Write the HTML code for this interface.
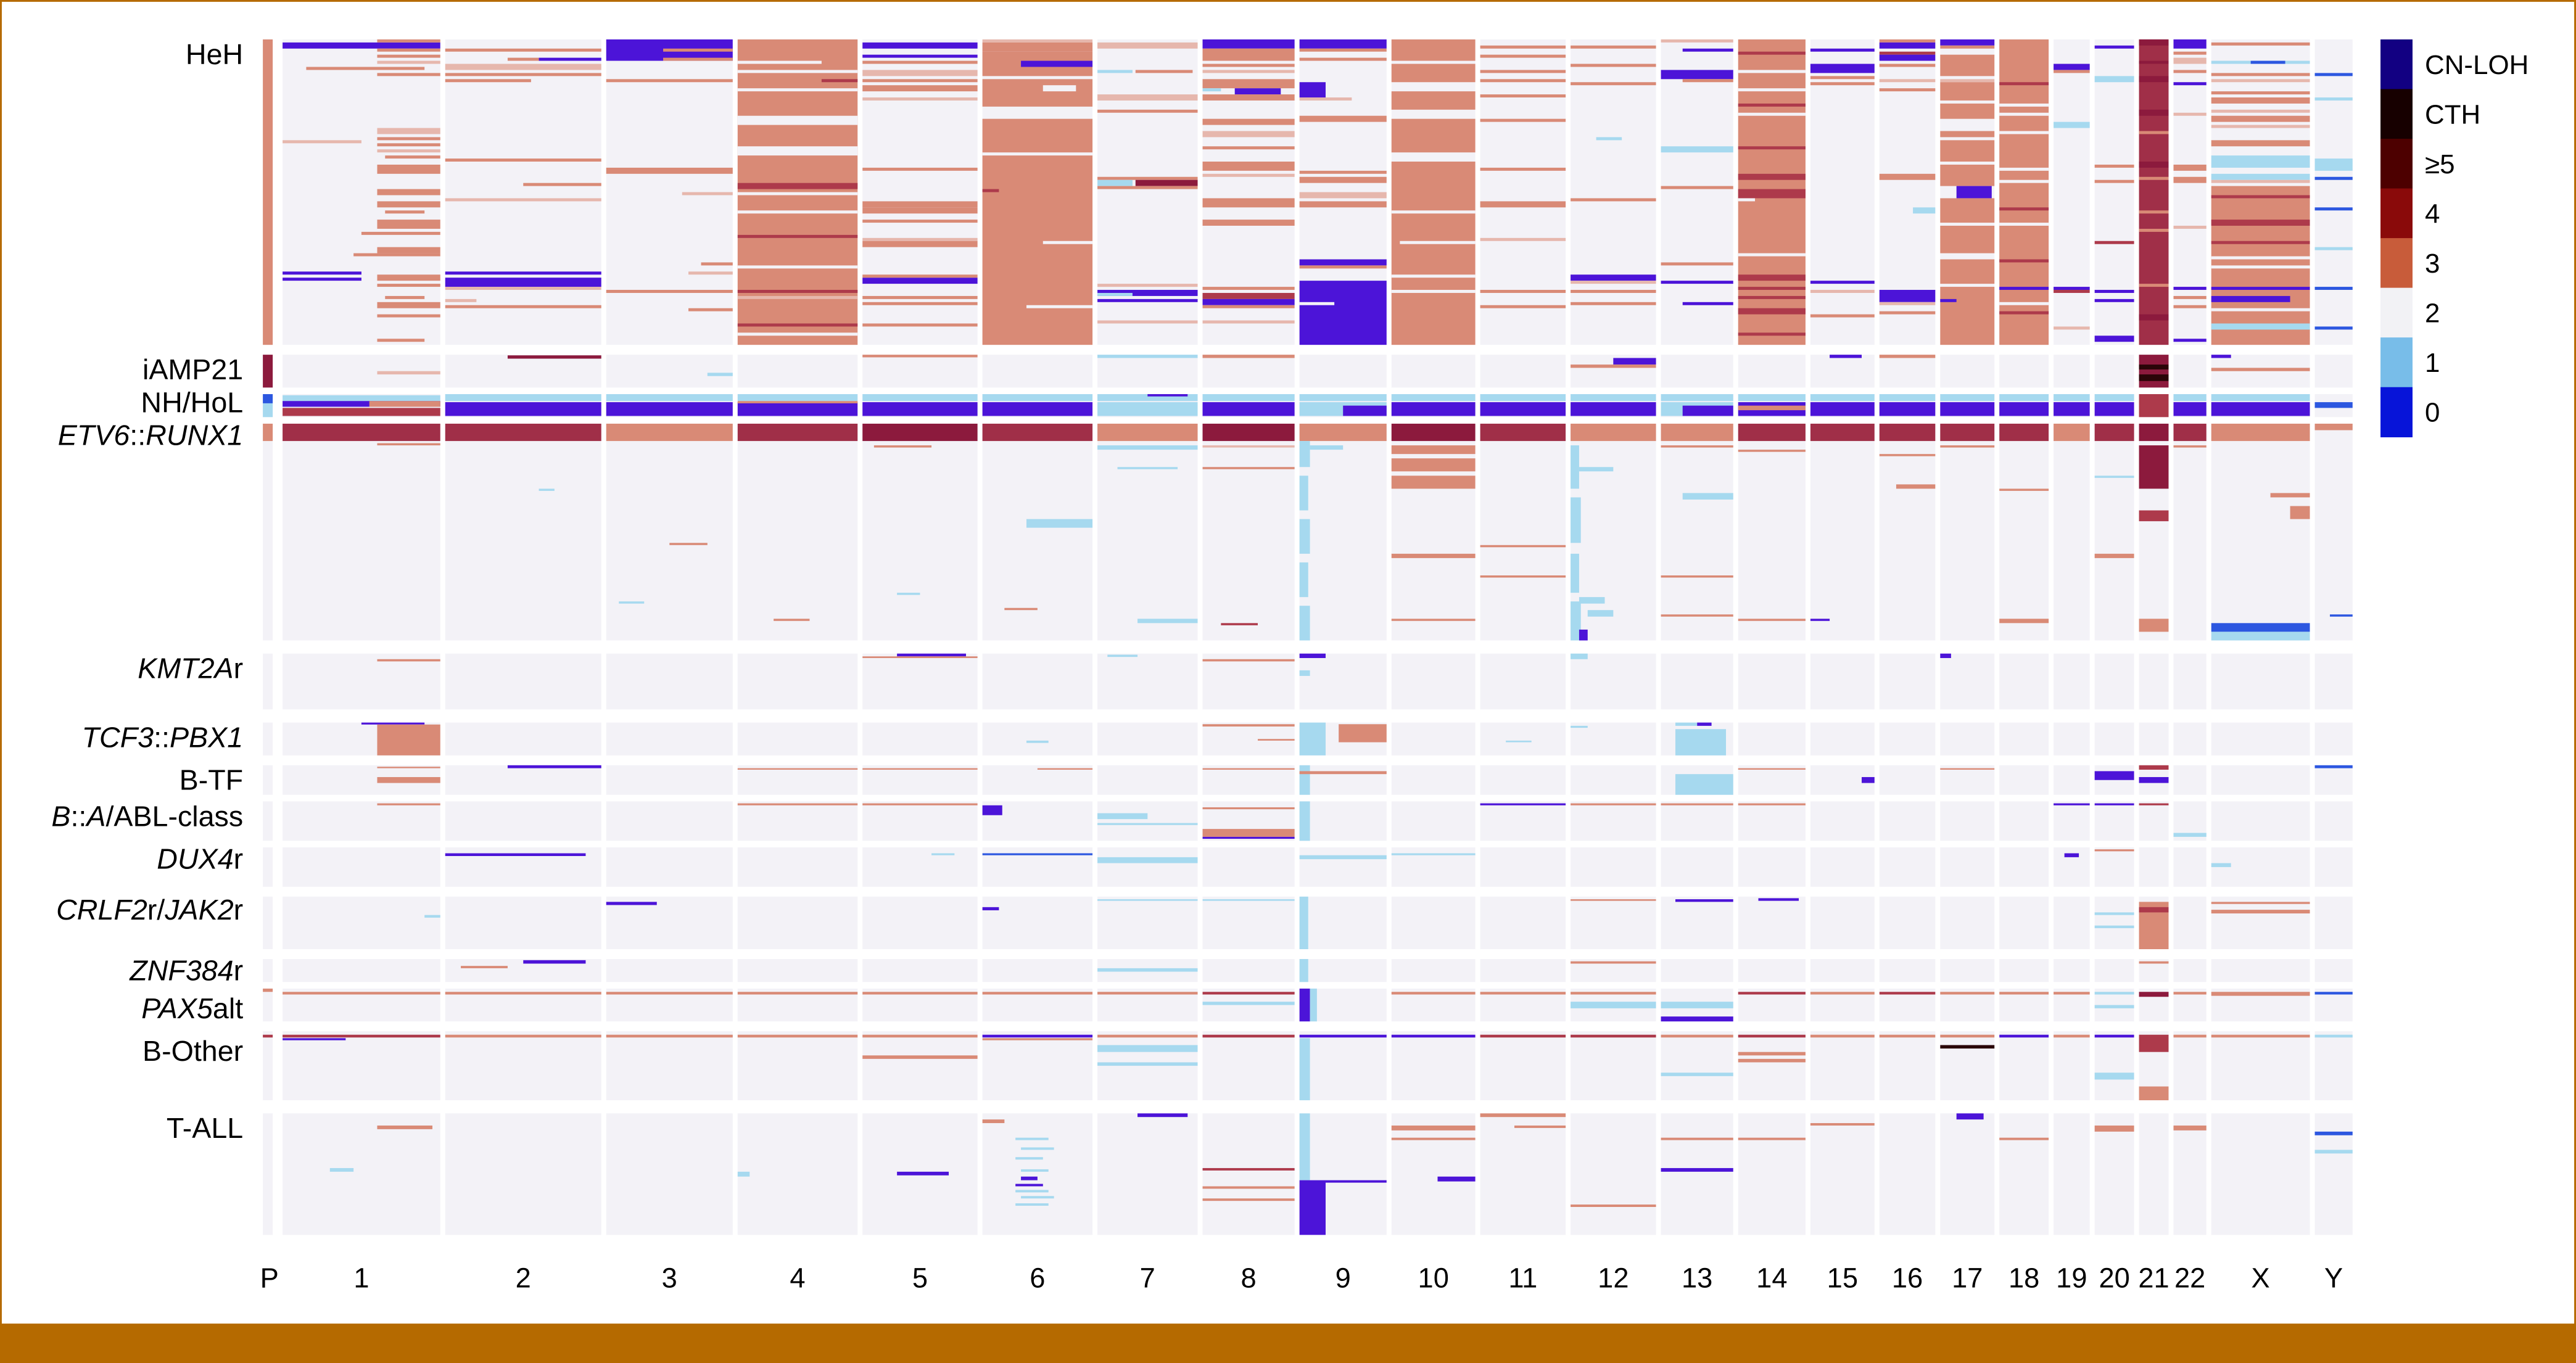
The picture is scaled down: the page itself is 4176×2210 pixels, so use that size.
<!DOCTYPE html>
<html><head><meta charset="utf-8">
<style>
html,body{margin:0;padding:0;background:#fff}
#wrap{position:relative;width:4176px;height:2210px;overflow:hidden;background:#fff}
svg{position:absolute;left:0;top:0}
text{font-family:"Liberation Sans",sans-serif;fill:#000}
</style></head>
<body>
<div id="wrap">
<svg id="chart" width="4176" height="2210" viewBox="0 0 1568 830" preserveAspectRatio="none">
  <rect x="0" y="0" width="1568" height="830" fill="#fff"/>
  <rect x="0.5" y="0.5" width="1567" height="810" fill="none" stroke="#b56a00" stroke-width="1.2"/>
  <rect x="0" y="806" width="1568" height="24" fill="#b56a00"/>
  <g id="cells"></g>
  <g id="rowlabels"></g>
  <g id="xlabels"></g>
  <g id="legend"></g>
</svg>
</div>
<script>
// ---- chart data ----
const chromNames = ["P","1","2","3","4","5","6","7","8","9","10","11","12","13","14","15","16","17","18","19","20","21","22","X","Y"];
const chromStart = [160,172,271,369,449,525,598,668,732,791,847,901,956,1011,1058,1102,1144,1181,1217,1250,1275,1302,1323,1346,1409];
const chromEnd   = [166,268,366,446,522,595,665,729,788,844,898,953,1008,1055,1099,1141,1178,1214,1247,1272,1299,1320,1343,1406,1432];
const groupNames = ["HeH","iAMP21","NH/HoL","ETV6::RUNX1","KMT2Ar","TCF3::PBX1","B-TF","B::A/ABL-class","DUX4r","CRLF2r/JAK2r","ZNF384r","PAX5alt","B-Other","T-ALL"];
const groupTop    = [24,216,240,258,398,440,466,488,516,546,584,602,628,678];
const groupBottom = [210,236,254,390,432,460,484,512,540,578,598,622,670,752];
const legendLabels = ["CN-LOH","CTH","\u22655","4","3","2","1","0"];
const legendStates = ["L","C","5","4","3","2","1","0"];
const stateColors = {"L":"#4c14d8","C":"#2a0508","5":"#8c1a3d","4":"#ad3a4b","3":"#d98a76","2":"#f3f2f7","1":"#a6d9ef","0":"#2c57e0","l":"#e6b7ad","d":"#a02f48"};
const legendColors = {"L":"#120082","C":"#170000","5":"#4d0000","4":"#8a0a0a","3":"#c85c3a","2":"#f2f2f5","1":"#78bde9","0":"#0714d9"};
// segments per group: [chromIndex, rowFrom%, rowTo%, state, xFrom, xTo]
const heh = [
 [0,0,100,"3"],
 [1,1,3,"L",0,1],[1,0,1,"3",.6,1],[1,3,4,"3",.6,1],[1,5,6,"3",.6,1],[1,7,8,"l",.6,1],[1,9,10,"3",.15,.9],[1,11,12,"3",.6,1],
 [1,29,31,"l",.6,1],[1,32,33,"3",.6,1],[1,33,34,"l",0,.5],[1,34,35,"3",.6,1],[1,36,37,"l",.6,1],[1,38,39,"3",.65,1],[1,41,44,"3",.6,1],
 [1,49,51,"3",.6,1],[1,53,55,"3",.6,1],[1,56,57,"3",.65,.9],[1,59,62,"3",.6,1],[1,63,64,"3",.5,1],[1,68,70,"3",.6,1],[1,70,71,"3",.45,1],
 [1,76,77,"L",0,.5],[1,78,79,"L",0,.5],[1,77,79,"3",.6,1],[1,80,81,"3",.6,1],[1,84,85,"3",.65,.9],[1,86,88,"3",.6,1],[1,90,91,"3",.6,1],[1,98,99,"3",.6,.9],
 [2,3,4,"3",0,1],[2,6,7,"3",.4,.6],[2,6,7,"L",.6,1],[2,8,10,"l",0,1],[2,11,12,"3",0,1],[2,13,14,"3",0,.55],[2,39,40,"3",0,1],[2,47,48,"3",.5,1],
 [2,52,53,"l",0,1],[2,76,77,"L",0,1],[2,78,81,"L",0,1],[2,81,82,"l",0,1],[2,85,86,"l",0,.2],[2,87,88,"3",0,1],
 [3,0,7,"L",0,1],[3,3,4,"3",.45,1],[3,6,7,"3",.45,1],[3,13,14,"3",0,1],[3,42,44,"3",0,1],[3,50,51,"l",.6,1],[3,73,74,"3",.75,1],[3,76,77,"l",.65,1],[3,82,83,"3",0,1],[3,88,89,"3",.65,1],
 [4,0,100,"3"],[4,7,8,"2",0,.7],[4,10,11,"2"],[4,16,17,"2"],[4,25,28,"2"],[4,35,38,"2"],[4,13,14,"4",.7,1],[4,50,51,"2"],[4,56,57,"2"],[4,47,49,"4"],[4,64,65,"4"],[4,74,75,"2"],[4,82,83,"4"],[4,84,85,"l"],[4,93,94,"4"],[4,96,97,"2"],
 [5,1,3,"L"],[5,5,6,"L"],[5,7,8,"3"],[5,10,12,"l"],[5,13,14,"3"],[5,15,17,"3"],[5,19,20,"l"],[5,42,43,"3"],[5,53,55,"3"],[5,55,57,"3"],[5,59,60,"3"],[5,65,66,"l"],[5,66,68,"3"],[5,78,80,"L"],[5,77,78,"3"],[5,84,85,"3"],[5,86,87,"3"],[5,93,94,"3"],
 [6,0,1,"l"],[6,1,4,"3"],[6,4,12,"3"],[6,7,9,"L",.35,1],[6,13,22,"3"],[6,15,17,"2",.55,.85],[6,26,100,"3"],[6,37,38,"2"],[6,49,50,"4",0,.15],[6,66,67,"2",.55,1],[6,87,88,"2",.4,1],
 [7,1,3,"l"],[7,10,11,"1",0,.35],[7,10,11,"3",.38,.95],[7,18,20,"l"],[7,23,24,"3"],[7,45,46,"3"],[7,46,48,"1",0,.35],[7,46,48,"5",.38,1],[7,48,49,"3"],[7,80,81,"l"],[7,82,84,"L"],[7,83,84,"1",0,.35],[7,85,86,"L"],[7,92,93,"l"],
 [8,0,3,"L"],[8,3,7,"3"],[8,8,9,"3"],[8,10,11,"l"],[8,13,16,"3"],[8,16,17,"1",0,.2],[8,16,18,"L",.35,.85],[8,18,20,"3"],[8,26,28,"3"],[8,30,32,"l"],[8,35,36,"3"],
 [8,40,43,"3"],[8,44,45,"l"],[8,52,55,"3"],[8,59,61,"3"],[8,81,82,"3"],[8,83,85,"4"],[8,85,87,"L"],[8,87,88,"3"],[8,92,93,"l"],
 [9,0,3,"L"],[9,3,4,"3"],[9,6,7,"3"],[9,14,19,"L",0,.3],[9,19,20,"l",0,.6],[9,25,27,"3"],[9,43,44,"3"],[9,45,47,"3"],[9,50,52,"l"],[9,53,55,"3"],[9,72,74,"L"],[9,74,75,"3"],[9,79,100,"L"],[9,86,87,"2",0,.4],
 [10,0,7,"3"],[10,8,14,"3"],[10,17,23,"3"],[10,26,37,"3"],[10,40,100,"3"],[10,56,57,"2"],[10,66,67,"2",.1,1],[10,77,78,"2"],[10,82,83,"2"],
 [11,2,3,"3"],[11,5,6,"3"],[11,10,11,"3"],[11,13,14,"3"],[11,18,19,"3"],[11,26,27,"3"],[11,42,43,"3"],[11,53,55,"3"],[11,65,66,"l"],[11,82,83,"3"],[11,87,88,"3"],
 [12,2,3,"3"],[12,8,9,"3"],[12,14,15,"3"],[12,32,33,"1",.3,.6],[12,52,53,"3"],[12,77,79,"L"],[12,79,80,"l"],[12,82,83,"3"],[12,86,87,"3"],
 [13,0,1,"l"],[13,3,4,"L",.3,1],[13,10,13,"L"],[13,13,14,"3",.3,1],[13,35,37,"1"],[13,48,49,"3"],[13,73,74,"3"],[13,79,80,"L"],[13,86,87,"L",.3,1],
 [14,0,100,"3"],[14,4,5,"4"],[14,10,11,"2"],[14,16,17,"2"],[14,21,22,"4"],[14,24,25,"2"],[14,35,36,"4"],[14,44,46,"4"],[14,49,52,"4"],[14,52,53,"2",0,.25],[14,70,71,"2"],[14,77,79,"4"],[14,81,82,"4"],[14,84,85,"4"],[14,88,90,"4"],[14,96,97,"4"],
 [15,3,4,"L"],[15,8,11,"L"],[15,12,13,"3"],[15,14,15,"3"],[15,79,80,"L"],[15,82,83,"l"],[15,90,91,"3"],
 [16,0,1,"3"],[16,1,3,"L"],[16,4,5,"4"],[16,5,7,"L"],[16,8,9,"3"],[16,13,14,"l"],[16,16,17,"3"],[16,44,46,"3"],[16,55,57,"1",.6,1],[16,82,86,"L"],[16,86,87,"l"],[16,89,90,"3"],
 [17,0,2,"L"],[17,2,3,"3"],[17,5,12,"3"],[17,13,14,"l"],[17,14,20,"3"],[17,21,26,"3"],[17,30,32,"3"],[17,33,40,"3"],[17,41,48,"3"],[17,48,52,"L",.3,.95],[17,52,60,"3"],[17,61,70,"3"],[17,72,80,"3"],[17,81,100,"3"],[17,85,86,"L",0,.3],
 [18,0,100,"3"],[18,14,15,"4"],[18,21,22,"2"],[18,24,25,"2"],[18,30,31,"2"],[18,42,43,"2"],[18,46,47,"2"],[18,55,56,"4"],[18,60,61,"2"],[18,72,73,"4"],[18,81,82,"L"],[18,86,87,"2"],[18,89,90,"4"],
 [19,8,10,"L"],[19,10,11,"3"],[19,27,29,"1"],[19,81,82,"L"],[19,82,83,"4"],[19,94,95,"l"],
 [20,2,3,"L"],[20,12,14,"1"],[20,41,42,"3"],[20,46,47,"3"],[20,66,67,"4"],[20,82,83,"L"],[20,85,86,"L"],[20,97,99,"L"],
 [21,0,100,"d"],[21,0,2,"5"],[21,7,8,"5"],[21,12,14,"5"],[21,23,25,"5"],[21,30,31,"3"],[21,40,42,"5"],[21,45,46,"3"],[21,56,57,"3"],[21,62,63,"3"],[21,80,81,"3"],[21,90,92,"5"],
 [22,0,3,"L"],[22,4,5,"3"],[22,6,8,"l"],[22,10,11,"3"],[22,14,15,"L"],[22,24,25,"l"],[22,41,43,"3"],[22,45,47,"3"],[22,61,62,"l"],[22,81,82,"L"],[22,84,85,"3"],[22,87,88,"3"],[22,98,99,"L"],
 [23,1,2,"3"],[23,7,8,"1"],[23,7,8,"0",.4,.75],[23,11,12,"3"],[23,13,14,"l"],[23,17,18,"3"],[23,19,21,"3"],[23,23,24,"l"],[23,25,27,"3"],[23,28,29,"l"],
 [23,33,35,"3"],[23,38,40,"1"],[23,40,42,"1"],[23,44,46,"1"],[23,46,47,"l"],[23,48,100,"3"],[23,51,52,"4"],[23,59,61,"4"],[23,66,67,"4"],[23,71,72,"2"],[23,74,75,"2"],[23,81,82,"L"],[23,84,86,"L",0,.8],[23,88,89,"2"],[23,93,95,"1"],
 [24,11,12,"0"],[24,19,20,"1"],[24,39,43,"1"],[24,45,46,"0"],[24,55,56,"0"],[24,68,69,"1"],[24,81,82,"0"],[24,94,95,"0"]
];
const iamp = [
 [0,0,100,"5"],[1,50,60,"l",.6,1],[2,2,12,"5",.4,1],[3,55,65,"1",.8,1],[5,0,8,"3"],[7,0,10,"1"],[8,0,10,"3"],[12,10,30,"L",.5,1],[12,30,40,"3"],[15,0,10,"L",.3,.8],[16,0,10,"3"],
 [21,0,100,"5"],[21,30,45,"C"],[21,60,80,"C"],[23,40,50,"3"],[23,0,10,"L",0,.2]
];
const nh = [
 [0,0,40,"0"],[0,40,100,"1"],
 [1,5,30,"1"],[1,30,55,"L"],[1,30,55,"3",.55,1],[1,60,95,"4"],
 [2,0,30,"1"],[2,35,95,"L"],[3,0,30,"1"],[3,35,95,"L"],[4,0,30,"1"],[4,35,95,"L"],[4,30,40,"3"],[5,0,30,"1"],[5,35,95,"L"],[6,0,30,"1"],[6,35,95,"L"],
 [7,0,30,"1"],[7,35,95,"1"],[7,0,10,"L",.5,.9],[8,0,30,"1"],[8,35,95,"L"],[9,0,30,"1"],[9,35,95,"1"],[9,50,95,"L",.5,1],[10,0,30,"1"],[10,35,95,"L"],[11,0,30,"1"],[11,35,95,"L"],
 [12,0,30,"1"],[12,35,95,"L"],[13,0,30,"1"],[13,35,95,"1"],[13,50,95,"L",.3,1],[14,0,30,"1"],[14,35,95,"L"],[14,50,70,"3"],[15,0,30,"1"],[15,35,95,"L"],[16,0,30,"1"],[16,35,95,"L"],
 [17,0,30,"1"],[17,35,95,"L"],[18,0,30,"1"],[18,35,95,"L"],[19,0,30,"1"],[19,35,95,"L"],[20,0,30,"1"],[20,35,95,"L"],[21,0,100,"4"],[22,0,30,"1"],[22,35,95,"L"],
 [23,0,30,"1"],[23,35,95,"L"],[24,35,60,"0"]
];
const etv = [
 [0,0,8,"3"],
 [1,0,8,"d"],[2,0,8,"d"],[3,0,8,"3"],[4,0,8,"d"],[5,0,8,"5"],[6,0,8,"d"],[7,0,8,"3"],[8,0,8,"5"],[9,0,8,"3"],[10,0,8,"5"],[11,0,8,"d"],[12,0,8,"3"],[13,0,8,"3"],
 [14,0,8,"d"],[15,0,8,"d"],[16,0,8,"d"],[17,0,8,"d"],[18,0,8,"d"],[19,0,8,"3"],[20,0,8,"d"],[21,0,8,"5"],[22,0,8,"d"],[23,0,8,"3"],[24,0,3,"3"],
 [1,9,10,"3",.6,1],[2,30,31,"1",.6,.7],[3,55,56,"3",.5,.8],[3,82,83,"1",.1,.3],[4,90,91,"3",.3,.6],[5,10,11,"3",.1,.6],[5,78,79,"1",.3,.5],
 [6,44,48,"1",.4,1],[6,85,86,"3",.2,.5],[7,10,12,"1"],[7,20,21,"1",.2,.8],[7,90,92,"1",.4,1],[8,10,11,"l"],[8,20,21,"3"],[8,92,93,"4",.2,.6],
 [9,8,20,"1",0,.12],[9,24,40,"1",0,.1],[9,44,60,"1",0,.12],[9,64,80,"1",0,.1],[9,84,100,"1",0,.12],[9,10,12,"1",.12,.5],[10,10,14,"3"],[10,16,22,"3"],[10,24,30,"3"],[10,60,62,"3"],[10,90,91,"3"],[11,56,57,"3"],[11,70,71,"3"],
 [12,10,30,"1",0,.1],[12,34,55,"1",0,.12],[12,60,78,"1",0,.1],[12,82,100,"1",0,.12],[12,20,22,"1",.1,.5],[12,80,83,"1",.1,.4],[12,86,89,"1",.2,.5],[12,95,100,"L",.1,.2],[13,10,11,"3"],[13,32,35,"1",.3,1],[13,70,71,"3"],[13,88,89,"3"],
 [14,12,13,"3"],[14,90,91,"3"],[15,90,91,"L",0,.3],[16,14,15,"3"],[16,28,30,"3",.3,1],[17,10,11,"3"],[18,30,31,"3"],[18,90,92,"3"],
 [20,24,25,"1"],[20,60,62,"3"],[21,10,30,"5"],[21,40,45,"4"],[21,90,96,"3"],[22,10,11,"3"],[23,32,34,"3",.6,1],[23,38,44,"3",.8,1],[23,92,96,"0"],[23,96,100,"1"],[24,88,89,"0",.4,1]
];
const kmt = [
 [1,10,14,"3",.6,1],[5,0,5,"L",.3,.9],[5,5,8,"3"],[7,2,6,"1",.1,.4],[8,10,14,"3"],[9,0,8,"L",0,.3],[9,30,40,"1",0,.12],[12,0,10,"1",0,.2],[17,0,8,"L",0,.2]
];
const tcf = [
 [1,0,6,"L",.5,.9],[1,6,100,"3",.6,1],[8,5,12,"3"],[8,50,55,"3",.6,1],[9,0,100,"1",0,.3],[9,5,60,"3",.45,1],[6,55,62,"1",.4,.6],[11,55,60,"1",.3,.6],
 [12,10,16,"1",0,.2],[13,0,10,"L",.5,.7],[13,20,100,"1",.2,.9],[13,0,10,"1",.2,.5]
];
const btf = [
 [1,5,10,"3",.6,1],[1,40,60,"3",.6,1],[2,0,10,"L",.4,1],[4,10,15,"3"],[5,10,15,"3"],[6,10,15,"3",.5,1],[8,10,15,"3"],[9,0,100,"1",0,.12],[9,20,30,"3"],
 [13,30,100,"1",.2,1],[14,10,15,"3"],[15,40,60,"L",.8,1],[17,10,15,"3"],[20,20,50,"L"],[21,0,15,"4"],[21,40,60,"L"],[24,0,10,"0"]
];
const bab = [
 [6,10,35,"L",0,.18],[1,5,10,"3",.6,1],[4,5,10,"3"],[5,5,10,"3"],[7,30,45,"1",0,.5],[7,55,60,"1"],[8,15,20,"3"],[8,70,90,"3"],[8,90,95,"L"],
 [11,5,10,"L"],[12,5,10,"3"],[13,5,10,"3"],[19,5,10,"L"],[20,5,10,"L"],[21,5,10,"4"],[22,80,90,"1"],[9,0,100,"1",0,.12],[14,5,10,"3"]
];
const dux = [
 [2,15,22,"L",0,.9],[6,15,20,"0",0,1],[7,25,40,"1"],[5,15,20,"1",.6,.8],[9,20,30,"1"],[10,15,20,"1"],[19,15,25,"L",.3,.7],[20,5,10,"3"],[23,40,50,"1",0,.2]
];
const crlf = [
 [3,10,16,"L",0,.4],[1,35,40,"1",.9,1],[6,20,26,"L",0,.15],[7,5,8,"1"],[8,5,8,"1"],[13,5,10,"L",.2,1],[14,3,8,"L",.3,.9],[12,5,8,"3"],
 [21,10,100,"3"],[21,20,30,"4"],[23,10,14,"3"],[23,25,32,"3"],[20,30,35,"1"],[20,55,60,"1"],[9,0,100,"1",0,.1]
];
const znf = [
 [2,5,20,"L",.5,.9],[2,30,40,"3",.1,.4],[7,40,55,"1"],[9,0,100,"1",0,.1],[12,10,20,"3"],[21,10,20,"3"]
];
const pax = [
 [0,0,10,"3"],[1,10,18,"3"],[2,10,18,"3"],[3,10,18,"3"],[4,10,18,"3"],[5,10,18,"3"],[6,10,18,"3"],[7,10,18,"3"],[8,10,18,"4"],[9,0,100,"L",0,.12],[9,0,100,"1",.12,.2],[10,10,18,"3"],
 [11,10,18,"3"],[12,10,18,"3"],[12,40,60,"1"],[13,40,60,"1"],[13,85,100,"L"],[14,10,18,"4"],[15,10,18,"3"],[16,10,18,"4"],[17,10,18,"3"],[18,10,18,"3"],[19,10,18,"3"],
 [20,10,18,"1"],[20,50,60,"1"],[21,10,25,"5"],[22,10,18,"3"],[23,10,22,"3"],[24,10,18,"0"],[8,40,50,"1"]
];
const bother = [
 [0,5,9,"4"],[1,5,9,"4"],[1,10,13,"L",0,.4],[2,5,9,"3"],[3,5,9,"3"],[4,5,9,"3"],[5,5,9,"3"],[6,5,9,"L"],[6,10,13,"3"],[7,5,9,"3"],[8,5,9,"4"],[9,5,9,"L"],[9,10,100,"1",0,.12],
 [10,5,9,"L"],[11,5,9,"4"],[12,5,9,"4"],[13,5,9,"3"],[14,5,9,"4"],[14,30,35,"3"],[14,40,45,"3"],[15,5,9,"3"],[16,5,9,"3"],[17,5,9,"3"],[17,20,25,"C"],[18,5,9,"L"],[19,5,9,"3"],[20,5,9,"L"],[21,5,30,"4"],[21,80,100,"3"],[22,5,9,"3"],[23,5,9,"3"],[24,5,9,"1"],
 [5,35,40,"3"],[7,20,30,"1"],[7,45,50,"1"],[13,60,65,"1"],[20,60,70,"1"]
];
const tall = [
 [1,10,13,"3",.6,.95],[1,45,48,"1",.3,.45],[4,48,52,"1",0,.1],[5,48,51,"L",.3,.75],[6,5,8,"3",0,.2],
 [6,20,22,"1",.3,.6],[6,28,30,"1",.35,.65],[6,36,38,"1",.3,.55],[6,46,48,"1",.35,.6],[6,52,55,"L",.35,.5],[6,58,60,"L",.3,.55],[6,63,65,"1",.3,.6],[6,68,70,"1",.35,.65],[6,74,76,"1",.3,.6],[7,0,3,"L",.4,.9],
 [8,45,47,"4"],[8,60,62,"3"],[8,70,72,"3"],[9,0,55,"1",0,.12],[9,55,100,"L",0,.3],[9,55,57,"L",.3,1],[10,52,56,"L",.55,1],[10,10,14,"3"],[10,20,22,"3"],
 [11,0,3,"3"],[11,10,12,"3",.4,1],[12,75,77,"3"],[13,20,22,"3"],[13,45,48,"L"],[14,20,22,"3"],[15,8,10,"3"],[17,0,5,"L",.3,.8],[18,20,22,"3"],[20,10,15,"3"],[22,10,14,"3"],[24,15,18,"0"],[24,30,33,"1"]
];
const groupSegments = [heh,iamp,nh,etv,kmt,tcf,btf,bab,dux,crlf,znf,pax,bother,tall];

// ---- drawing ----
const NS = "http://www.w3.org/2000/svg";
function xScale(ci, f){ return chromStart[ci] + (chromEnd[ci]-chromStart[ci])*f; }
function yScale(gi, p){ return groupTop[gi] + (groupBottom[gi]-groupTop[gi])*p/100; }
const cells = document.getElementById('cells');
for (let g=0; g<groupNames.length; g++){
  for (let c=0; c<chromNames.length; c++){
    const r = document.createElementNS(NS,'rect');
    r.setAttribute('x', xScale(c,0)); r.setAttribute('y', yScale(g,0));
    r.setAttribute('width', xScale(c,1)-xScale(c,0)); r.setAttribute('height', yScale(g,100)-yScale(g,0));
    r.setAttribute('fill', '#f3f2f7');
    
    
    cells.appendChild(r);
  }
  groupSegments[g].forEach(s=>{
    const x0 = s.length>4 ? s[4] : 0, x1 = s.length>5 ? s[5] : 1;
    const r = document.createElementNS(NS,'rect');
    const y0 = yScale(g,s[1]), y1 = yScale(g,s[2]);
    r.setAttribute('x', xScale(s[0],x0)); r.setAttribute('y', y0);
    r.setAttribute('width', Math.max(0.6, xScale(s[0],x1)-xScale(s[0],x0)));
    r.setAttribute('height', Math.max(0.9, y1-y0));
    r.setAttribute('fill', stateColors[s[3]]);
    
    
    cells.appendChild(r);
  });
}
// row labels
const rl = document.getElementById('rowlabels');
const rowLabelHTML = ["HeH","iAMP21","NH/HoL","<tspan font-style='italic'>ETV6</tspan>::<tspan font-style='italic'>RUNX1</tspan>",
 "<tspan font-style='italic'>KMT2A</tspan>r","<tspan font-style='italic'>TCF3</tspan>::<tspan font-style='italic'>PBX1</tspan>","B-TF",
 "<tspan font-style='italic'>B</tspan>::<tspan font-style='italic'>A</tspan>/ABL-class","<tspan font-style='italic'>DUX4</tspan>r",
 "<tspan font-style='italic'>CRLF2</tspan>r/<tspan font-style='italic'>JAK2</tspan>r","<tspan font-style='italic'>ZNF384</tspan>r","<tspan font-style='italic'>PAX5</tspan>alt","B-Other","T-ALL"];
const labelY = [39,231,251,271,413,455,481,503,529,560,597,620,646,693];
for (let g=0; g<groupNames.length; g++){
  const t = document.createElementNS(NS,'text');
  t.setAttribute('x', 148); t.setAttribute('y', labelY[g]);
  t.setAttribute('text-anchor','end'); t.setAttribute('font-size','17.5');
  t.innerHTML = rowLabelHTML[g];
  
  
  rl.appendChild(t);
}
// x labels
const xl = document.getElementById('xlabels');
for (let c=0; c<chromNames.length; c++){
  const t = document.createElementNS(NS,'text');
  t.setAttribute('x', (xScale(c,0)+xScale(c,1))/2 + (c===0?1:0)); t.setAttribute('y', 784);
  t.setAttribute('text-anchor','middle'); t.setAttribute('font-size','17');
  t.textContent = chromNames[c];
  
  
  xl.appendChild(t);
}
// legend
const lg = document.getElementById('legend');
const legTop = 24, legH = 30.25;
for (let i=0; i<legendLabels.length; i++){
  const r = document.createElementNS(NS,'rect');
  r.setAttribute('x',1449); r.setAttribute('y', legTop+i*legH); r.setAttribute('width',19.5); r.setAttribute('height',legH+0.3);
  r.setAttribute('fill', legendColors[legendStates[i]]);
  
  
  lg.appendChild(r);
  const t = document.createElementNS(NS,'text');
  t.setAttribute('x',1476); t.setAttribute('y', legTop+i*legH+21);
  t.setAttribute('font-size','16.5');
  t.textContent = legendLabels[i];
  
  
  lg.appendChild(t);
}
</script>
</body></html>
